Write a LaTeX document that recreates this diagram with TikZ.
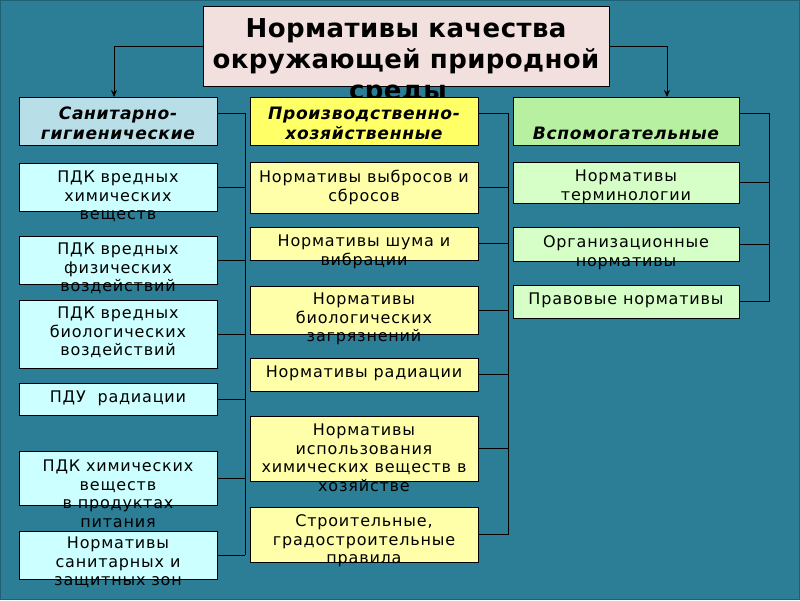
\documentclass[tikz,border=0pt]{standalone}
\usepackage{fontspec}
\setmainfont{DejaVu Sans}
\newfontfamily\itemfont{DejaVu Sans}[LetterSpace=5.0]
\newfontfamily\headfont{DejaVu Sans}[LetterSpace=4.0]
\newfontfamily\titlefont{DejaVu Sans}[LetterSpace=1.5]
\usetikzlibrary{arrows.meta}
\definecolor{bg}{RGB}{44,125,150}
\definecolor{bgedge}{RGB}{32,96,116}
\definecolor{titlefill}{RGB}{242,224,222}
\definecolor{lhead}{RGB}{184,222,232}
\definecolor{litem}{RGB}{204,255,255}
\definecolor{mhead}{RGB}{255,255,102}
\definecolor{mitem}{RGB}{255,255,170}
\definecolor{rhead}{RGB}{183,240,160}
\definecolor{ritem}{RGB}{214,255,200}
\newcommand{\mltext}[1]{\parbox[t]{260pt}{\centering\itemfont\fontsize{16}{18.5}\selectfont #1}}
\newcommand{\hdtext}[1]{\parbox[t]{260pt}{\centering\headfont\fontsize{17.1}{20}\selectfont\bfseries\itshape #1}}
\begin{document}
\begin{tikzpicture}[x=1pt,y=-1pt,
  box/.style={draw=black, line width=0.8pt, inner sep=0pt, outer sep=0pt},
  lbl/.style={anchor=base, inner sep=0pt, text=black},
  conn/.style={draw=black, line width=0.8pt},
  arr/.style={conn, -{Stealth[length=7pt,width=6pt]}}]
\useasboundingbox (0,0) rectangle (800,600);
\fill[bg] (0,0) rectangle (800,600);
\draw[bgedge, line width=1pt] (0.5,0.5) rectangle (799.5,599.5);

% title
\node[box, fill=titlefill, minimum width=406, minimum height=80] (T) at (406,46) {};
\node[anchor=base, inner sep=0pt] (TT) at (406,37) {\parbox[t]{440pt}{\centering\titlefont\fontsize{26}{31}\selectfont\bfseries Нормативы качества\\окружающей природной\\среды\hspace*{16pt}}};

% left column
\node[box, fill=lhead, minimum width=198, minimum height=48] (LH) at (118,121) {};
\node[lbl] (tLH) at (118,119) {\hdtext{Санитарно-\\гигиенические}};
\node[box, fill=litem, minimum width=198, minimum height=48] (L2) at (118,187) {};
\node[lbl] (tL2) at (118,182.5) {\mltext{ПДК вредных\\химических\\веществ}};
\node[box, fill=litem, minimum width=198, minimum height=48] (L3) at (118,260) {};
\node[lbl] (tL3) at (118,254.5) {\mltext{ПДК вредных\\физических\\воздействий}};
\node[box, fill=litem, minimum width=198, minimum height=68] (L4) at (118,334) {};
\node[lbl] (tL4) at (118,318.5) {\mltext{ПДК вредных\\биологических\\воздействий}};
\node[box, fill=litem, minimum width=198, minimum height=32] (L5) at (118,399) {};
\node[lbl] (tL5) at (118,402.5) {\mltext{ПДУ\ \ радиации}};
\node[box, fill=litem, minimum width=198, minimum height=54] (L6) at (118,478) {};
\node[lbl] (tL6) at (118,471.5) {\mltext{ПДК химических\\веществ\\в продуктах\\питания}};
\node[box, fill=litem, minimum width=198, minimum height=48] (L7) at (118,555) {};
\node[lbl] (tL7) at (118,548.5) {\mltext{Нормативы\\санитарных и\\защитных зон}};

% middle column
\node[box, fill=mhead, minimum width=228, minimum height=48] (MH) at (364,121) {};
\node[lbl] (tMH) at (364,119) {\hdtext{Производственно-\\хозяйственные}};
\node[box, fill=mitem, minimum width=228, minimum height=51] (M2) at (364,187.5) {};
\node[lbl] (tM2) at (364,182.5) {\mltext{Нормативы выбросов и\\сбросов}};
\node[box, fill=mitem, minimum width=228, minimum height=33] (M3) at (364,243.5) {};
\node[lbl] (tM3) at (364,246.5) {\mltext{Нормативы шума и\\вибрации}};
\node[box, fill=mitem, minimum width=228, minimum height=48] (M4) at (364,310) {};
\node[lbl] (tM4) at (364,304.5) {\mltext{Нормативы\\биологических\\загрязнений}};
\node[box, fill=mitem, minimum width=228, minimum height=33] (M5) at (364,374.5) {};
\node[lbl] (tM5) at (364,377.5) {\mltext{Нормативы радиации}};
\node[box, fill=mitem, minimum width=228, minimum height=65] (M6) at (364,448.5) {};
\node[lbl] (tM6) at (364,435.5) {\mltext{Нормативы\\использования\\химических веществ в\\хозяйстве}};
\node[box, fill=mitem, minimum width=228, minimum height=55] (M7) at (364,534.5) {};
\node[lbl] (tM7) at (364,526.5) {\mltext{Строительные,\\градостроительные\\правила}};

% right column
\node[box, fill=rhead, minimum width=226, minimum height=48] (RH) at (626,121) {};
\node[lbl] (tRH) at (626,139) {\hdtext{Вспомогательные}};
\node[box, fill=ritem, minimum width=226, minimum height=41] (R2) at (626,182.5) {};
\node[lbl] (tR2) at (626,181.5) {\mltext{Нормативы\\терминологии}};
\node[box, fill=ritem, minimum width=226, minimum height=34] (R3) at (626,244) {};
\node[lbl] (tR3) at (626,247.5) {\mltext{Организационные\\нормативы}};
\node[box, fill=ritem, minimum width=226, minimum height=33] (R4) at (626,301.5) {};
\node[lbl] (tR4) at (626,304.5) {\mltext{Правовые нормативы}};

% arrows from title
\coordinate (la) at (114,97);
\coordinate (ra) at (667,97);
\draw[arr] (T.west) -| (la);
\draw[arr] (T.east) -| (ra);

% left bracket
\coordinate (lbt) at (245,113);
\draw[conn] (LH.east |- lbt) -- (lbt) -- (L7.east -| lbt);
\foreach \n in {L2,L3,L4,L5,L6,L7} \draw[conn] (\n.east) -- (\n.east -| lbt);
% middle bracket
\coordinate (mbt) at (508,113);
\draw[conn] (MH.east |- mbt) -- (mbt) -- (M7.east -| mbt);
\foreach \n in {M2,M3,M4,M5,M6,M7} \draw[conn] (\n.east) -- (\n.east -| mbt);
% right bracket
\coordinate (rbt) at (769,113);
\draw[conn] (RH.east |- rbt) -- (rbt) -- (R4.east -| rbt);
\foreach \n in {R2,R3,R4} \draw[conn] (\n.east) -- (\n.east -| rbt);
\end{tikzpicture}
\end{document}
